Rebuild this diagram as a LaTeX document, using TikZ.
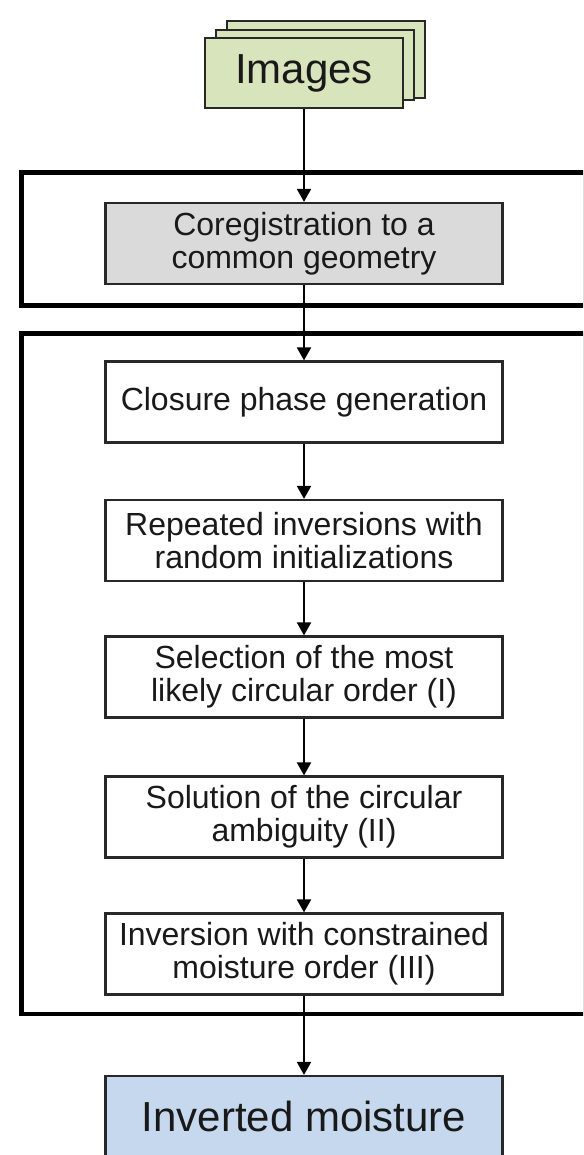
\documentclass[tikz,border=0pt]{standalone}
\usepackage{fontspec}
\setmainfont{Liberation Sans}
\usetikzlibrary{arrows.meta}
\definecolor{imggreen}{RGB}{216,228,188}
\definecolor{outblue}{RGB}{198,216,238}
\definecolor{coreggray}{RGB}{218,218,218}
\definecolor{edgegray}{RGB}{40,40,40}
\tikzset{
 stepbox/.style={draw=edgegray, line width=1.1pt, fill=white, text=black!90, minimum width=198.5pt, minimum height=40.5pt, align=center, inner sep=0pt, font=\fontsize{16}{16.5}\selectfont},
 bigbox/.style={stepbox, font=\fontsize{21}{23}\selectfont},
 sheet/.style={draw=edgegray, line width=1.1pt, fill=imggreen},
 frame/.style={line width=2.4pt},
 flow/.style={-{Triangle[width=7pt,length=6.5pt]}, line width=1pt},
}
\begin{document}
\begin{tikzpicture}[x=0.5pt, y=-0.5pt]
 \useasboundingbox (0,0) rectangle (583,1155);
 \clip (0,0) rectangle (583,1155);
 \draw[frame] (21.5,172.5) rectangle (585,305.5);
 \draw[frame] (21.5,333.5) rectangle (585,1014);
 \draw[sheet] (227,21) rectangle (425,98);
 \draw[sheet] (216,30) rectangle (414,100);
 \node[bigbox, fill=imggreen, minimum width=99pt, minimum height=35pt] (img) at (304,73) {Images};
 \node[stepbox, fill=coreggray] (coreg) at (304,243.5) {Coregistration to a\\common geometry};
 \node[stepbox] (closure) at (304,402) {Closure phase generation};
 \node[stepbox] (repeat) at (304,540.5) {Repeated inversions with\\random initializations};
 \node[stepbox] (select) at (304,677) {Selection of the most\\likely circular order (I)};
 \node[stepbox] (solve) at (304,817) {Solution of the circular\\ambiguity (II)};
 \node[stepbox] (constr) at (304,954) {Inversion with constrained\\moisture order (III)};
 \node[bigbox, fill=outblue] (moist) at (304,1116.5) {Inverted moisture};
 \draw[flow] (img) -- (coreg);
 \draw[flow] (coreg) -- (closure);
 \draw[flow] (closure) -- (repeat);
 \draw[flow] (repeat) -- (select);
 \draw[flow] (select) -- (solve);
 \draw[flow] (solve) -- (constr);
 \draw[flow] (constr) -- (moist);
\end{tikzpicture}
\end{document}
